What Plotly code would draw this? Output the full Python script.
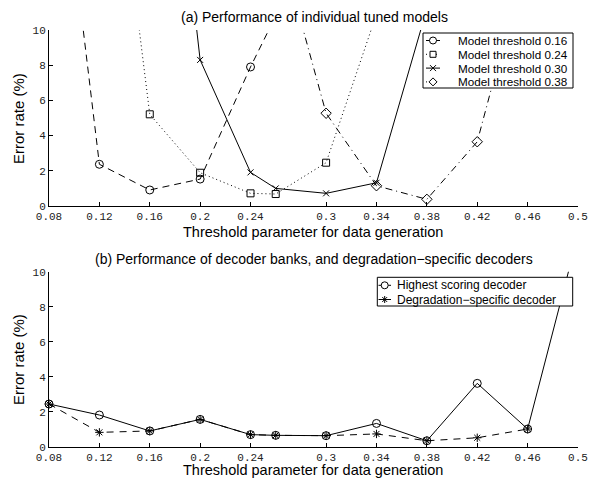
import plotly.graph_objects as go

# ---------------- data ----------------
tick_vals = [0.08, 0.12, 0.16, 0.2, 0.24, 0.3, 0.34, 0.38, 0.42, 0.46, 0.5]
tick_text = ["0.08", "0.12", "0.16", "0.2", "0.24", "0.3", "0.34", "0.38", "0.42", "0.46", "0.5"]

m016_x = [0.08, 0.12, 0.16, 0.2, 0.24, 0.26]
m016_y = [26.2, 2.37, 0.91, 1.53, 7.9, 10.8]

m024_x = [0.12, 0.16, 0.2, 0.24, 0.26, 0.3, 0.34]
m024_y = [28.3, 5.21, 1.89, 0.72, 0.68, 2.46, 10.9]

m030_x = [0.16, 0.2, 0.24, 0.26, 0.3, 0.34, 0.38]
m030_y = [33.5, 8.3, 1.91, 1.0, 0.72, 1.32, 11.2]

m038_x = [0.26, 0.3, 0.34, 0.38, 0.42, 0.46]
m038_y = [15.7, 5.27, 1.15, 0.38, 3.65, 14.4]

dec_x = [0.08, 0.12, 0.16, 0.2, 0.24, 0.26, 0.3, 0.34, 0.38, 0.42, 0.46, 0.5]
highest_y = [2.44, 1.81, 0.90, 1.56, 0.69, 0.65, 0.63, 1.33, 0.34, 3.62, 1.01, 12.1]
degr_x = [0.08, 0.12, 0.16, 0.2, 0.24, 0.26, 0.3, 0.34, 0.38, 0.42, 0.46]
degr_y = [2.44, 0.82, 0.90, 1.56, 0.69, 0.65, 0.63, 0.73, 0.34, 0.51, 1.01]

legend_a = ["Model threshold 0.16", "Model threshold 0.24", "Model threshold 0.30", "Model threshold 0.38"]
legend_b = ["Highest scoring decoder", "Degradation\u2212specific decoder"]

# ---------------- layout helpers ----------------
W, H = 591, 478
def px(x):
    return x / W
def py(y):
    return 1 - y / H

SANS = "Liberation Sans, Arial, sans-serif"
MONO = "Liberation Mono, Courier New, monospace"

DASH = "7px,5px"
DOT = "1px,3px"
DASHDOT = "7px,4px,1px,4px"

fig = go.Figure()

series_a = [
    (m016_x, m016_y, DASH, "circle-open", 8),
    (m024_x, m024_y, DOT, "square-open", 7),
    (m030_x, m030_y, "solid", "x-thin-open", 6),
    (m038_x, m038_y, DASHDOT, "diamond-open", 8),
]
for xs, ys, dash, sym, sz in series_a:
    fig.add_trace(go.Scatter(x=xs, y=ys, mode="lines", line=dict(color="black", width=1, dash=dash),
                             xaxis="x", yaxis="y", showlegend=False, hoverinfo="skip"))
    fig.add_trace(go.Scatter(x=xs, y=ys, mode="markers", cliponaxis=False,
                             marker=dict(symbol=sym, size=sz, color="black", line=dict(width=1, color="black")),
                             xaxis="x", yaxis="y", showlegend=False))

series_b = [
    (dec_x, highest_y, "solid", "circle-open", 8),
    (degr_x, degr_y, "7px,6px", "asterisk-open", 7),
]
for xs, ys, dash, sym, sz in series_b:
    fig.add_trace(go.Scatter(x=xs, y=ys, mode="lines", line=dict(color="black", width=1, dash=dash),
                             xaxis="x2", yaxis="y2", showlegend=False, hoverinfo="skip"))
    fig.add_trace(go.Scatter(x=xs, y=ys, mode="markers", cliponaxis=False,
                             marker=dict(symbol=sym, size=sz, color="black", line=dict(width=1, color="black")),
                             xaxis="x2", yaxis="y2", showlegend=False))

xdom = [px(49), px(578)]
axis_common = dict(showline=True, linecolor="black", linewidth=1, ticks="inside", ticklen=4,
                   tickwidth=1, tickcolor="black", showgrid=False, zeroline=False, mirror=False,
                   automargin=False,
                   tickfont=dict(family=MONO, size=11, color="#222"))

fig.update_layout(
    width=W, height=H, autosize=False,
    margin=dict(l=0, r=0, t=0, b=0, pad=0, autoexpand=False),
    paper_bgcolor="white", plot_bgcolor="white",
    showlegend=False,
    xaxis=dict(domain=xdom, range=[0.08, 0.5], tickvals=tick_vals, ticktext=tick_text, anchor="y", **axis_common),
    yaxis=dict(domain=[py(206), py(30)], range=[0, 10], tickvals=[0, 2, 4, 6, 8, 10], anchor="x", **axis_common),
    xaxis2=dict(domain=xdom, range=[0.08, 0.5], tickvals=tick_vals, ticktext=tick_text, anchor="y2", **axis_common),
    yaxis2=dict(domain=[py(446.7), py(271.7)], range=[0, 10], tickvals=[0, 2, 4, 6, 8, 10], anchor="x2", **axis_common),
)

annotations = []
def text(x, y, s, size, xanchor="center", angle=0):
    annotations.append(dict(x=px(x), y=py(y), xref="paper", yref="paper", text=s, showarrow=False,
                            xanchor=xanchor, yanchor="middle", textangle=angle,
                            font=dict(family=SANS, size=size, color="black")))

text(314, 17, "(a) Performance of individual tuned models", 14)
text(314, 258.5, "(b) Performance of decoder banks, and degradation\u2212specific decoders", 14)
text(313, 232, "Threshold parameter for data generation", 14.5)
text(313, 469.5, "Threshold parameter for data generation", 14.5)
text(18, 119, "Error rate (%)", 15, angle=-90)
text(18, 360, "Error rate (%)", 15, angle=-90)

shapes = []
def box(x0, y0, x1, y1):
    shapes.append(dict(type="rect", xref="paper", yref="paper", x0=px(x0), x1=px(x1), y0=py(y1), y1=py(y0),
                       line=dict(color="black", width=1), fillcolor="white", layer="above"))

def sample_line(x0, x1, y, dash):
    shapes.append(dict(type="line", xref="paper", yref="paper", x0=px(x0), x1=px(x1), y0=py(y), y1=py(y),
                       line=dict(color="black", width=1, dash=dash), layer="above"))

def sample_marker(x, y, kind, r):
    base = dict(xref="paper", yref="paper", xsizemode="pixel", ysizemode="pixel",
                xanchor=px(x), yanchor=py(y), line=dict(color="black", width=1), layer="above")
    if kind == "circle":
        shapes.append(dict(type="circle", x0=-r, x1=r, y0=-r, y1=r, fillcolor="white", **base))
    elif kind == "square":
        shapes.append(dict(type="rect", x0=-r, x1=r, y0=-r, y1=r, fillcolor="white", **base))
    elif kind == "diamond":
        shapes.append(dict(type="path", path=f"M {-r} 0 L 0 {r} L {r} 0 L 0 {-r} Z", fillcolor="white", **base))
    elif kind == "x":
        shapes.append(dict(type="path", path=f"M {-r} {-r} L {r} {r} M {-r} {r} L {r} {-r}", **base))
    elif kind == "star":
        shapes.append(dict(type="path",
                           path=f"M {-r} 0 L {r} 0 M 0 {-r} L 0 {r} M {-0.7*r} {-0.7*r} L {0.7*r} {0.7*r} M {-0.7*r} {0.7*r} L {0.7*r} {-0.7*r}",
                           **base))

# legend (a)
box(423, 33, 573, 88)
kinds_a = [("circle", 3.5, DASH), ("square", 3, DOT), ("x", 3, "solid"), ("diamond", 4, DASHDOT)]
for i, (lab, (kind, r, dash)) in enumerate(zip(legend_a, kinds_a)):
    yy = 40.5 + 13.8 * i
    if dash == "solid" or dash == DASH:
        sample_line(426, 440, yy, "solid")
    else:
        sample_line(426, 440, yy, "1px,4px")
    sample_marker(433, yy, kind, r)
    text(456, yy, lab, 11.7, xanchor="left")

# legend (b)
box(377.3, 277.3, 572.7, 306)
kinds_b = [("circle", 3.5, "solid"), ("star", 3.5, "solid")]
for i, (lab, (kind, r, dash)) in enumerate(zip(legend_b, kinds_b)):
    yy = 285.3 + 14.2 * i
    sample_line(378.5, 391, yy, dash)
    sample_marker(384.7, yy, kind, r)
    text(395, yy, lab, 12, xanchor="left")

fig.update_layout(annotations=annotations, shapes=shapes)

fig.write_html("out.html", config={"displayModeBar": False},
               post_script="document.body.style.margin='0px';document.body.style.overflow='hidden';")
